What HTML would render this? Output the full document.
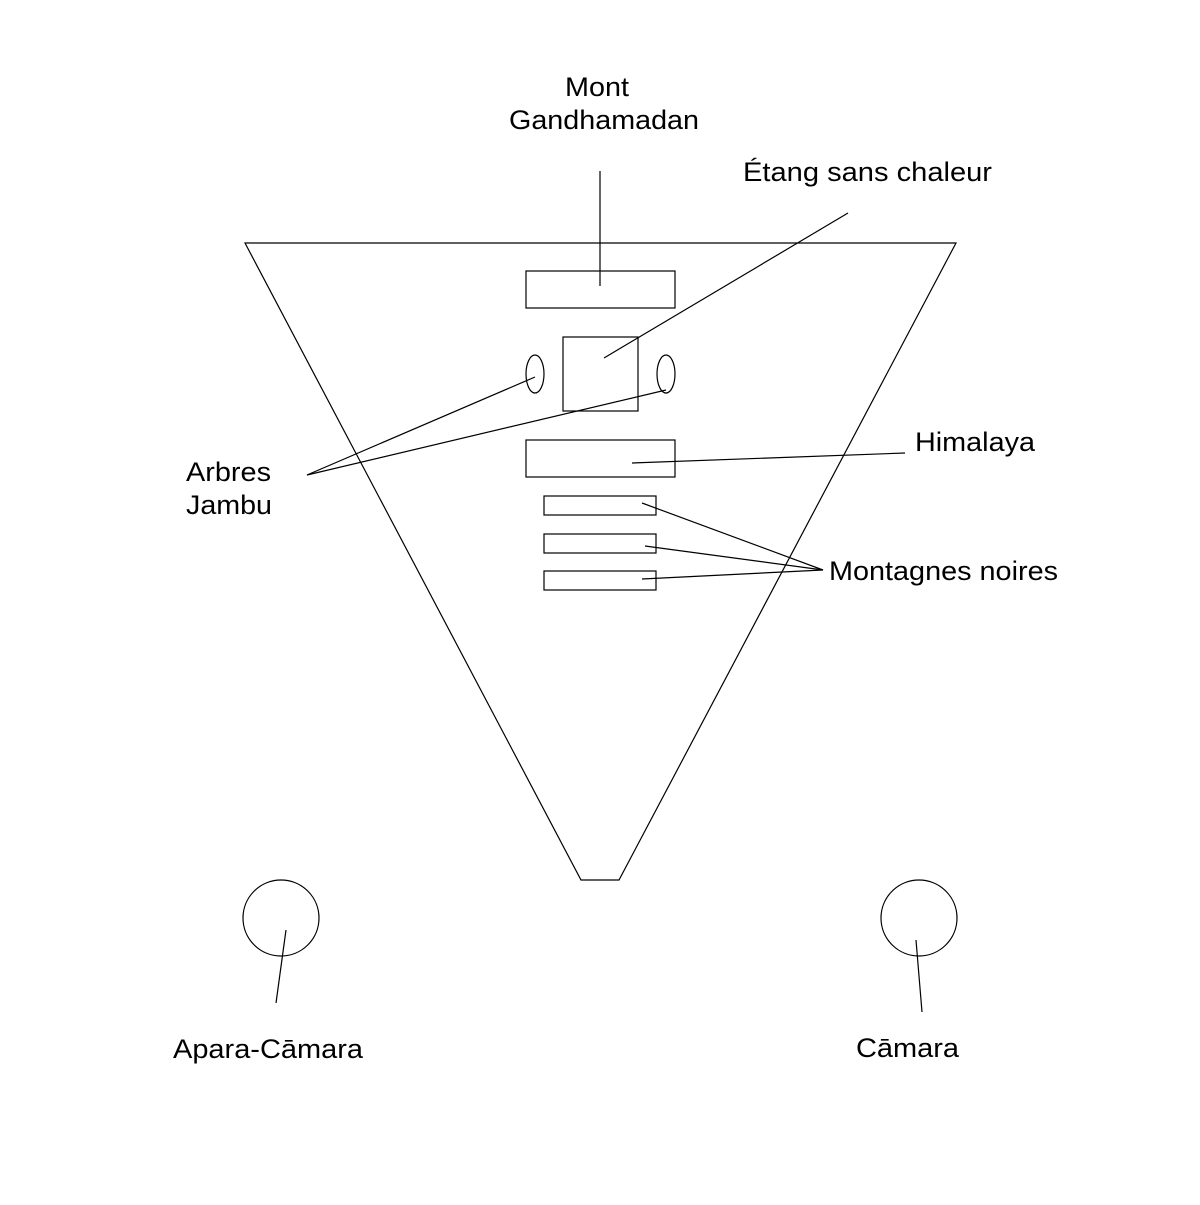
<!DOCTYPE html>
<html><head><meta charset="utf-8"><style>html,body{margin:0;padding:0;background:#fff}</style></head>
<body>
<svg width="1200" height="1200" viewBox="0 0 1200 1200" xmlns="http://www.w3.org/2000/svg" font-family="Liberation Sans, sans-serif" font-size="27" fill="none" stroke="#000" stroke-width="1.2">
<polygon points="245,243 956,243 619,880 581,880"/>
<rect x="526" y="271" width="149" height="37"/>
<rect x="563" y="337" width="75" height="74"/>
<ellipse cx="535" cy="374" rx="9" ry="19"/>
<ellipse cx="666" cy="374" rx="9" ry="19"/>
<rect x="526" y="440" width="149" height="37"/>
<rect x="544" y="496" width="112" height="19"/>
<rect x="544" y="534" width="112" height="19"/>
<rect x="544" y="571" width="112" height="19"/>
<circle cx="281" cy="918" r="38"/>
<circle cx="919" cy="918" r="38"/>
<line x1="600" y1="171" x2="600" y2="286"/>
<line x1="848" y1="213" x2="604" y2="358"/>
<line x1="307" y1="475" x2="535" y2="377"/>
<line x1="307" y1="475" x2="666" y2="390"/>
<line x1="905" y1="453" x2="632" y2="463"/>
<line x1="823" y1="570" x2="642" y2="503"/>
<line x1="823" y1="570" x2="645" y2="546"/>
<line x1="823" y1="570" x2="642" y2="579"/>
<line x1="286" y1="930" x2="276" y2="1003"/>
<line x1="916" y1="940" x2="922" y2="1012"/>
<g fill="#000" stroke="none" >
<text x="565" y="96" textLength="64" lengthAdjust="spacingAndGlyphs">Mont</text>
<text x="509" y="129" textLength="190" lengthAdjust="spacingAndGlyphs">Gandhamadan</text>
<text x="743" y="181" textLength="249" lengthAdjust="spacingAndGlyphs">Étang sans chaleur</text>
<text x="915" y="451" textLength="120" lengthAdjust="spacingAndGlyphs">Himalaya</text>
<text x="186" y="481" textLength="85" lengthAdjust="spacingAndGlyphs">Arbres</text>
<text x="186" y="514" textLength="86" lengthAdjust="spacingAndGlyphs">Jambu</text>
<text x="829" y="580" textLength="229" lengthAdjust="spacingAndGlyphs">Montagnes noires</text>
<text x="173" y="1058" textLength="190" lengthAdjust="spacingAndGlyphs">Apara-Cāmara</text>
<text x="856" y="1057" textLength="103" lengthAdjust="spacingAndGlyphs">Cāmara</text>
</g>
</svg>
</body></html>
